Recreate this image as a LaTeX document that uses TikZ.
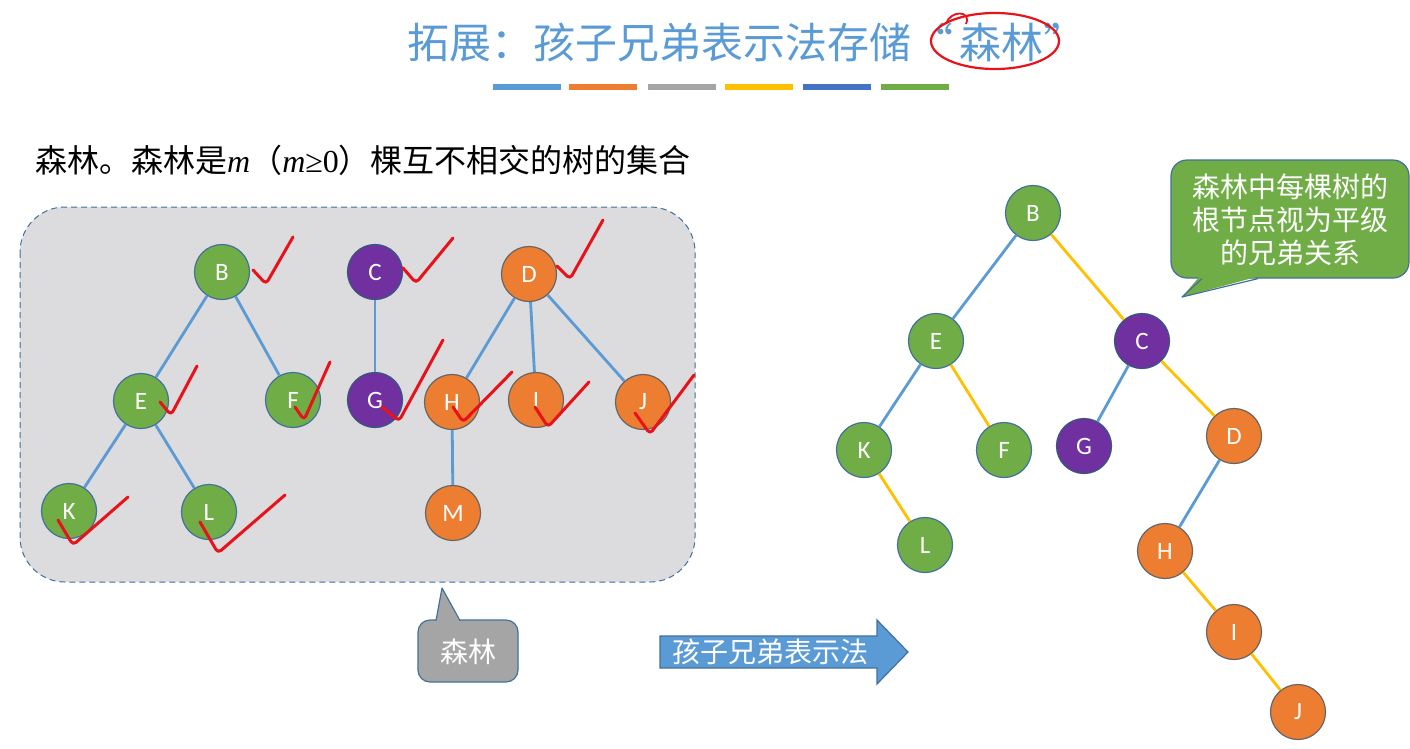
\documentclass[tikz,border=0pt]{standalone}
\usepackage{fontspec}
\setmainfont{Liberation Serif}
\newfontfamily\cjk{Noto Sans CJK SC}
\newfontfamily\lbl{Carlito}
\definecolor{ublue}{HTML}{5B9BD5}
\definecolor{uorange}{HTML}{ED7D31}
\definecolor{ugray}{HTML}{A5A5A5}
\definecolor{uyellow}{HTML}{FFC000}
\definecolor{udblue}{HTML}{4472C4}
\definecolor{ugreen}{HTML}{70AD47}
\definecolor{upurple}{HTML}{7030A0}
\definecolor{uline}{HTML}{41719C}
\definecolor{boxgray}{HTML}{DCDBDD}
\definecolor{ink}{HTML}{E8121B}
\begin{document}
\begin{tikzpicture}[x=1pt,y=-1pt,
  tn/.style={circle,minimum size=55,inner sep=0,line width=1.2,text=white,
    font=\lbl\fontsize{25}{25}\selectfont},
  gn/.style={tn,fill=ugreen,draw=uline},
  on/.style={tn,fill=uorange,draw=gray!80!black},
  pn/.style={tn,fill=upurple,draw=uline!80!black},
  be/.style={draw=ublue,line width=2.8},
  ye/.style={draw=uyellow,line width=2.8},
  chk/.style={draw=ink,line width=3,line cap=round,line join=round,rounded corners=4},
  bar/.style={line width=6},
  cjktext/.style={font=\cjk\fontsize{#1}{#1}\selectfont}
]
\useasboundingbox (0,0) rectangle (1410,748);
\fill[white] (0,0) rectangle (1410,748);

% title
\node[cjktext=42,text=ublue,inner sep=0,anchor=west] (title) at (407,42) {拓展：孩子兄弟表示法存储“\hspace{6pt}森林”};
\draw[ink,line width=2.2] (995,41) ellipse [x radius=64,y radius=28];
\draw[ink,line width=1.8] (946,24) .. controls (950,10) and (972,10) .. (966,24);

\draw[bar,ublue] (493,87) -- (561,87);
\draw[bar,uorange] (569,87) -- (637,87);
\draw[bar,ugray] (648,87) -- (716,87);
\draw[bar,uyellow] (725,87) -- (793,87);
\draw[bar,udblue] (803,87) -- (871,87);
\draw[bar,ugreen] (881,87) -- (949,87);

% subtitle
\node[anchor=west,inner sep=0,font=\fontsize{32}{32}\selectfont] (sub) at (35,160)
  {{\cjk 森林。森林是}\textit{m}{\cjk （}\textit{m}≥0{\cjk ）棵互不相交的树的集合}};

% forest box
\draw[fill=boxgray,draw=uline,dashed,dash pattern=on 6 off 4,line width=1,rounded corners=45]
  (20,207) rectangle (695,582);

% left forest nodes
\node[gn] (lB) at (222,272) {B};
\node[pn] (lC) at (375,272) {C};
\node[on] (lD) at (529,274) {D};
\node[gn] (lE) at (141,401) {E};
\node[gn] (lF) at (293,400) {F};
\node[pn] (lG) at (375,400) {G};
\node[on] (lH) at (452,402) {H};
\node[on] (lI) at (536,400) {I};
\node[on] (lJ) at (643,402) {J};
\node[gn] (lK) at (69,511) {K};
\node[gn] (lL) at (209,512) {L};
\node[on] (lM) at (453,513) {M};
\draw[be] (lB) -- (lE);
\draw[be] (lB) -- (lF);
\draw[be] (lE) -- (lK);
\draw[be] (lE) -- (lL);
\draw[be] (lC) -- (lG);
\draw[be] (lD) -- (lH);
\draw[be] (lD) -- (lI);
\draw[be] (lD) -- (lJ);
\draw[be] (lH) -- (lM);

% check marks
\draw[chk] (253,270) -- (266,284) -- (293,237);
\draw[chk] (403,268) -- (416,283) -- (453,238);
\draw[chk] (557,266) -- (570,279) -- (603,220);
\draw[chk] (160,402) -- (171,415) -- (197,366);
\draw[chk] (295,407) -- (304,420) -- (330,362);
\draw[chk] (382,407) -- (399,421) -- (443,340);
\draw[chk] (453,407) -- (463,422) -- (512,372);
\draw[chk] (535,407) -- (548,427) -- (589,382);
\draw[chk] (635,413) -- (650,434) -- (694,375);
\draw[chk] (58,520) -- (73,545) -- (128,497);
\draw[chk] (200,522) -- (218,553) -- (285,495);

% gray callout
\draw[fill=ugray,draw=uline,line width=1.2,rounded corners=12] (418,620) rectangle (518,682);
\fill[ugray] (436,622) -- (442,588) -- (460,622) -- cycle;
\draw[uline,line width=1.2,line join=round] (436,620.6) -- (442,588) -- (460,620.6);
\node[cjktext=28,text=white] (forestlbl) at (468,652) {森林};

% big arrow
\draw[fill=ublue,draw=uline,line width=1.2]
  (660,636) -- (877,636) -- (877,620) -- (908,652) -- (877,684) -- (877,668) -- (660,668) -- cycle;
\node[cjktext=28,text=white] (arrowlbl) at (770,652) {孩子兄弟表示法};

% right tree
\node[gn] (rB) at (1033,213) {B};
\node[gn] (rE) at (936,341) {E};
\node[pn] (rC) at (1142,341) {C};
\node[gn] (rK) at (864,450) {K};
\node[gn] (rF) at (1004,450) {F};
\node[pn] (rG) at (1084,446) {G};
\node[on] (rD) at (1234,436) {D};
\node[gn] (rL) at (925,545) {L};
\node[on] (rH) at (1165,551) {H};
\node[on] (rI) at (1234,632) {I};
\node[on] (rJ) at (1298,712) {J};
\draw[be] (rB) -- (rE);
\draw[ye] (rB) -- (rC);
\draw[be] (rE) -- (rK);
\draw[ye] (rE) -- (rF);
\draw[be] (rC) -- (rG);
\draw[ye] (rC) -- (rD);
\draw[ye] (rK) -- (rL);
\draw[be] (rD) -- (rH);
\draw[ye] (rH) -- (rI);
\draw[ye] (rI) -- (rJ);

% green callout
\draw[fill=ugreen,draw=uline,line width=1.2,rounded corners=16] (1171,160) rectangle (1409,278);
\fill[ugreen] (1200,276) -- (1182,297) -- (1260,276) -- cycle;
\draw[uline,line width=1.2,line join=round] (1202,278.6) -- (1182,297) -- (1258,278.6);
\node[cjktext=28,text=white,align=center,inner sep=0] (note) at (1290,220)
  {森林中每棵树的\\[5pt]根节点视为平级\\[5pt]的兄弟关系};
\end{tikzpicture}
\end{document}
